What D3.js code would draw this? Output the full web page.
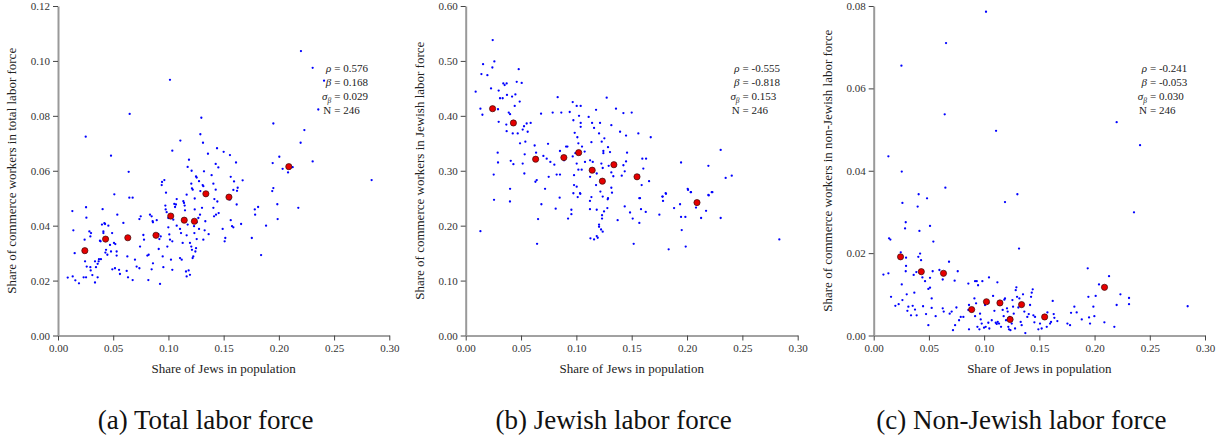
<!DOCTYPE html>
<html>
<head>
<meta charset="utf-8">
<script src="https://cdn.jsdelivr.net/npm/d3@7"></script>
<style>
    body { margin: 0; background: #fff; }
    svg text { font-family: "Liberation Serif", "DejaVu Serif", serif; }
</style>
</head>
<body>
<svg></svg>
<script>
// x tick labels (same for all three panels)
const xTicks = [0, 0.05, 0.10, 0.15, 0.20, 0.25, 0.30];

// y tick labels per panel
const yTicksTotal = [0, 0.02, 0.04, 0.06, 0.08, 0.10, 0.12];
const yTicksJewish = [0, 0.10, 0.20, 0.30, 0.40, 0.50, 0.60];
const yTicksNonJewish = [0, 0.02, 0.04, 0.06, 0.08];

// bin means (red dots): x = share of Jews
const binX = [0.0243, 0.0431, 0.0632, 0.0887, 0.1021, 0.1143, 0.1235, 0.1339, 0.1548, 0.2090];
const binTotal = [0.0309, 0.0351, 0.0356, 0.0365, 0.0435, 0.0420, 0.0416, 0.0516, 0.0504, 0.0615];
const binJewish = [0.413, 0.387, 0.321, 0.324, 0.333, 0.301, 0.281, 0.311, 0.289, 0.242];
const binNonJewish = [0.0191, 0.0155, 0.0151, 0.0063, 0.0082, 0.0079, 0.0039, 0.0075, 0.0045, 0.0117];

// regression stats: rho, beta, sigma beta, N
const statsTotal = ['0.576', '0.168', '0.029', '246'];
const statsJewish = ['-0.555', '-0.818', '0.153', '246'];
const statsNonJewish = ['-0.241', '-0.053', '0.030', '246'];

// county points [share of Jews, share of commerce workers]
const totalPts = [
[0.220,0.1036],[0.2306,0.0975],[0.2409,0.0928],[0.2357,0.0823],[0.1014,0.0931],[0.0649,0.0807],[0.0251,0.0724],[0.195,0.0772],
[0.2231,0.0748],[0.2197,0.0702],[0.2306,0.0634],[0.2004,0.0651],[0.1944,0.0628],[0.2034,0.0607],[0.2125,0.0613],[0.2083,0.0594],
[0.284,0.0566],[0.195,0.0537],[0.194,0.0526],[0.048,0.0655],[0.064,0.0596],[0.051,0.0514],[0.0646,0.0502],[0.0676,0.0502],
[0.1108,0.0710],[0.1035,0.0673],[0.1298,0.0793],[0.1289,0.0733],[0.1313,0.0702],[0.144,0.0682],[0.150,0.0669],[0.1557,0.0657],
[0.1358,0.0662],[0.1186,0.0640],[0.1612,0.0630],[0.1174,0.0614],[0.1428,0.0625],[0.1452,0.0612],[0.121,0.0600],[0.1322,0.0598],
[0.125,0.0579],[0.1256,0.0575],[0.1391,0.0584],[0.1564,0.0578],[0.1277,0.0562],[0.1207,0.0553],[0.131,0.0548],[0.1316,0.0544],
[0.1407,0.0553],[0.1594,0.0561],[0.1672,0.0565],[0.1627,0.0538],[0.1621,0.0527],[0.1588,0.053],[0.1428,0.0531],[0.1213,0.0536],
[0.122,0.0531],[0.1289,0.0526],[0.0942,0.0559],[0.0963,0.0566],[0.0939,0.0548],[0.0978,0.052],[0.1075,0.0497],[0.1165,0.0513],
[0.1238,0.0499],[0.1416,0.0497],
[0.013,0.0453],[0.0139,0.0383],[0.0151,0.030],[0.0088,0.0211],[0.0133,0.0215],[0.0157,0.0201],[0.019,0.019],[0.0241,0.0349],
[0.0254,0.0467],[0.0257,0.0429],[0.0245,0.027],[0.026,0.0251],[0.0232,0.0212],[0.0254,0.0212],[0.0284,0.0379],[0.0293,0.0361],
[0.0299,0.0373],[0.0293,0.0249],[0.0296,0.0237],[0.0311,0.022],[0.0335,0.027],[0.0344,0.0249],[0.0335,0.0193],[0.0359,0.0261],
[0.0368,0.027],[0.0359,0.0212],[0.0371,0.0278],[0.0389,0.0278],[0.038,0.0345],[0.0386,0.0343],[0.0398,0.0404],[0.0411,0.0379],
[0.0426,0.0406],[0.042,0.0409],[0.0404,0.046],[0.0411,0.0373],[0.0435,0.0312],[0.0429,0.0302],[0.0447,0.0294],[0.0456,0.04],
[0.0471,0.033],[0.048,0.0306],[0.049,0.0373],[0.0507,0.0337],[0.0519,0.0333],[0.0531,0.0306],[0.0531,0.0291],[0.0537,0.044],
[0.0516,0.0245],[0.0492,0.0241],[0.0553,0.0239],[0.0561,0.0224],[0.0592,0.041],[0.0622,0.0235],[0.0628,0.0288],[0.0634,0.0212],
[0.0676,0.0202],[0.0697,0.0276],[0.0712,0.0251],[0.0737,0.0245],[0.0737,0.0424],[0.0749,0.0434],[0.0743,0.0324],[0.0773,0.0366],
[0.0779,0.0349],[0.0818,0.0202],[0.0809,0.0291],[0.0821,0.0294],[0.0833,0.044],[0.0848,0.0434],[0.0857,0.0416],[0.0848,0.0241],
[0.086,0.0412],[0.086,0.0263],[0.0894,0.042],[0.0909,0.0369],[0.0912,0.0315],[0.0918,0.0351],[0.093,0.0361],[0.0924,0.0188],
[0.0948,0.0288],[0.0954,0.0249],[0.0972,0.0473],[0.0975,0.0459],[0.0984,0.0449],[0.099,0.0324],[0.0999,0.0428],[0.0999,0.0394],
[0.1008,0.0368],[0.1014,0.0349],[0.1023,0.0276],[0.1035,0.0239],[0.1035,0.0343],[0.1044,0.0422],[0.1053,0.0479],[0.106,0.0468],
[0.1068,0.0477],[0.1075,0.04],[0.1105,0.0282],[0.1105,0.0388],[0.112,0.0276],[0.1114,0.0373],[0.1129,0.0337],[0.1135,0.0489],
[0.1141,0.0483],[0.1147,0.0473],[0.115,0.0456],[0.1159,0.0233],[0.1165,0.0365],[0.1174,0.0404],[0.1183,0.0237],[0.1195,0.0221],
[0.1165,0.0215],[0.1195,0.0337],[0.1207,0.0324],[0.1213,0.0312],[0.1219,0.0282],[0.1225,0.0288],[0.1232,0.0398],[0.1235,0.0373],
[0.1238,0.0459],[0.1244,0.0306],[0.125,0.0318],[0.1256,0.0351],[0.1256,0.0412],[0.1271,0.0428],[0.1277,0.0388],[0.1286,0.0440],
[0.1304,0.0465],[0.1316,0.0349],[0.1328,0.0383],[0.1334,0.0416],[0.1364,0.0369],[0.1407,0.0465],[0.1413,0.0434],[0.1431,0.044],
[0.1443,0.0488],[0.1455,0.0446],[0.1491,0.0388],[0.1515,0.0355],[0.1509,0.0343],[0.1557,0.0495],[0.1564,0.042],[0.1576,0.0398],
[0.1588,0.0394],[0.1618,0.0477],[0.1658,0.0406],[0.1755,0.0355],[0.1782,0.0459],[0.1785,0.044],[0.1812,0.0468],[0.1839,0.0293],
[0.1884,0.04],[0.1986,0.0478],[0.1989,0.0424],[0.2176,0.0465]
];

const jewishPts = [
[0.0244,0.538],[0.0259,0.499],[0.0157,0.494],[0.0142,0.476],[0.0196,0.474],[0.0241,0.488],[0.0229,0.450],[0.009,0.444],
[0.0133,0.413],[0.0151,0.402],[0.0292,0.412],[0.0298,0.446],[0.031,0.432],[0.0334,0.432],[0.034,0.459],[0.0352,0.456],
[0.037,0.459],[0.0373,0.438],[0.0419,0.435],[0.0449,0.439],[0.0479,0.485],[0.0461,0.462],[0.0506,0.460],[0.0488,0.426],
[0.0443,0.418],[0.0389,0.406],[0.0401,0.403],[0.0298,0.389],[0.0367,0.384],[0.0425,0.368],[0.037,0.372],[0.047,0.368],
[0.0515,0.375],[0.0527,0.381],[0.0551,0.386],[0.0587,0.387],[0.056,0.371],[0.0491,0.350],[0.0539,0.353],[0.0289,0.333],
[0.0292,0.315],[0.0253,0.293],[0.0407,0.318],[0.0431,0.312],[0.0515,0.313],[0.0533,0.330],[0.053,0.295],[0.0623,0.346],
[0.0636,0.333],[0.063,0.280],[0.0642,0.283],[0.0401,0.267],[0.0681,0.404],[0.0702,0.327],[0.0732,0.322],[0.0744,0.349],
[0.0765,0.316],[0.075,0.289],[0.0717,0.267],[0.0786,0.406],[0.0831,0.434],[0.0864,0.406],[0.0852,0.336],[0.0852,0.293],
[0.0822,0.293],[0.0801,0.311],[0.0889,0.319],[0.0907,0.344],[0.0919,0.344],[0.094,0.407],[0.0967,0.425],[0.0973,0.392],
[0.0985,0.369],[0.1003,0.418],[0.1009,0.361],[0.1018,0.350],[0.1024,0.400],[0.1039,0.418],[0.1039,0.387],[0.1039,0.380],
[0.1051,0.344],[0.0991,0.332],[0.0967,0.326],[0.1003,0.313],[0.1018,0.302],[0.1048,0.302],[0.1075,0.335],[0.0979,0.292],
[0.0979,0.274],[0.1003,0.271],[0.1033,0.259],[0.1078,0.316],[0.1111,0.398],[0.1142,0.387],[0.116,0.378],[0.1136,0.352],
[0.1178,0.411],[0.1214,0.387],[0.1205,0.368],[0.1229,0.353],[0.1253,0.359],[0.1124,0.319],[0.1148,0.316],[0.1184,0.295],
[0.1178,0.274],[0.1124,0.289],[0.1226,0.313],[0.1244,0.336],[0.1244,0.332],[0.1238,0.305],[0.1220,0.283],[0.1274,0.433],
[0.1286,0.343],[0.1304,0.334],[0.1316,0.383],[0.1358,0.413],[0.1292,0.309],[0.1316,0.297],[0.1334,0.290],[0.1316,0.269],
[0.1286,0.250],[0.1395,0.371],[0.1425,0.405],[0.1449,0.364],[0.1458,0.333],[0.1449,0.317],[0.1425,0.310],[0.141,0.291],
[0.1437,0.299],[0.15,0.406],[0.156,0.368],[0.1596,0.322],[0.163,0.322],[0.1605,0.304],[0.1657,0.281],[0.1672,0.361],
[0.1590,0.274],[0.1569,0.250],[0.156,0.292],[0.1946,0.315],[0.2006,0.267],[0.2033,0.261],[0.2193,0.309],[0.2223,0.261],
[0.2193,0.256],[0.2304,0.338],[0.2349,0.287],[0.2404,0.291],[0.178,0.253],[0.1807,0.259],
[0.0133,0.190],[0.0256,0.247],[0.04,0.244],[0.0645,0.167],[0.0654,0.212],[0.0684,0.239],[0.0813,0.231],[0.0849,0.251],
[0.0925,0.213],[0.0955,0.229],[0.0955,0.221],[0.0973,0.259],[0.1012,0.252],[0.1036,0.258],[0.1123,0.245],[0.1136,0.252],
[0.1123,0.230],[0.1184,0.229],[0.1205,0.202],[0.1205,0.198],[0.1223,0.193],[0.1238,0.189],[0.1232,0.219],[0.1232,0.213],
[0.1238,0.253],[0.125,0.226],[0.128,0.232],[0.1283,0.248],[0.1322,0.260],[0.1127,0.177],[0.116,0.175],[0.1184,0.181],
[0.1193,0.178],[0.1217,0.262],[0.1373,0.210],[0.1437,0.235],[0.1485,0.224],[0.1509,0.213],[0.1518,0.167],[0.1569,0.205],
[0.1575,0.250],[0.1584,0.230],[0.1627,0.225],[0.175,0.220],[0.1777,0.253],[0.1783,0.245],[0.181,0.258],[0.1834,0.157],
[0.1883,0.232],[0.1937,0.239],[0.1946,0.216],[0.1952,0.192],[0.1985,0.216],[0.1988,0.162],[0.2081,0.233],[0.2172,0.227],
[0.2127,0.214],[0.2196,0.255],[0.2229,0.261],[0.2304,0.214],[0.2834,0.175],[0.2009,0.265],[0.2036,0.261]
];

const nonJewishPts = [
[0.1017,0.0786],[0.0655,0.0710],[0.0251,0.0655],[0.0643,0.0537],[0.1108,0.0497],[0.22,0.0518],[0.2412,0.0462],[0.0133,0.0435],
[0.0254,0.0398],[0.0407,0.0343],[0.0483,0.0333],[0.0649,0.0359],[0.1301,0.0343],
[0.026,0.0322],[0.0398,0.0313],[0.1189,0.0324],[0.2357,0.0299],[0.029,0.0275],[0.0284,0.026],[0.051,0.0266],[0.0414,0.0254],
[0.0139,0.0236],[0.0151,0.0233],[0.054,0.0228],[0.1316,0.0211],[0.0245,0.0202],[0.042,0.0199],[0.0404,0.0191],[0.0293,0.0189],
[0.0429,0.0183],[0.0682,0.0179],[0.0293,0.0169],[0.029,0.0156],[0.0386,0.0154],[0.0534,0.0156],[0.0595,0.0159],[0.0761,0.0156],
[0.0625,0.0136],[0.0362,0.0147],[0.0088,0.0148],[0.0133,0.0151],[0.0441,0.0141],[0.051,0.014],[0.0733,0.0133],[0.0465,0.0132],
[0.0254,0.0124],[0.0857,0.0126],[0.0918,0.0132],[0.0933,0.0132],[0.0984,0.0132],[0.0945,0.0122],[0.1044,0.0141],[0.112,0.0129],
[0.0299,0.01],[0.0368,0.0104],[0.0157,0.0094],[0.0196,0.0072],[0.0226,0.0076],[0.026,0.0086],[0.0314,0.007],[0.0338,0.0049],
[0.0353,0.0072],[0.0374,0.0063],[0.0389,0.0049],[0.0447,0.0071],[0.0474,0.0052],[0.0495,0.0113],[0.051,0.0116],[0.0495,0.0025],
[0.0525,0.009],[0.0525,0.0067],[0.0561,0.0047],[0.0625,0.0066],[0.0634,0.0058],[0.0688,0.0053],[0.0706,0.0058],[0.0749,0.0068],
[0.0737,0.0025],[0.0718,0.0013],[0.0773,0.0037],[0.0788,0.0045],[0.0812,0.0045],[0.0857,0.0062],[0.0863,0.0074],[0.0863,0.0015],
[0.0912,0.009],[0.0927,0.0078],[0.0918,0.0047],[0.0939,0.0021],[0.0957,0.0015],[0.0963,0.0053],[0.0969,0.0039],[0.0978,0.0029],
[0.0999,0.0019],[0.1014,0.0021],[0.1008,0.0074],[0.1038,0.0079],[0.1038,0.0031],[0.1047,0.0017],[0.1069,0.0037],[0.1081,0.0096],
[0.1093,0.006],[0.1105,0.0031],[0.1114,0.0028],[0.1123,0.0033],[0.1135,0.0029],[0.1153,0.0021],[0.1168,0.0062],[0.1177,0.0047],
[0.1183,0.0087],[0.1189,0.009],[0.1198,0.0037],[0.1207,0.0066],[0.1213,0.0058],[0.1219,0.0021],[0.1225,0.0015],[0.1231,0.0045],
[0.1238,0.0013],[0.125,0.0029],[0.1256,0.0086],[0.1262,0.007],[0.1268,0.0053],[0.128,0.0017],[0.1286,0.011],[0.1292,0.0117],
[0.1298,0.0094],[0.131,0.0068],[0.1319,0.009],[0.1331,0.0033],[0.134,0.0025],[0.1352,0.01],[0.1364,0.0058],[0.1373,0.0006],
[0.1391,0.0045],[0.1404,0.0052],[0.1416,0.0074],[0.1425,0.0094],[0.1431,0.0104],[0.144,0.0112],[0.1446,0.0049],[0.1455,0.0032],
[0.1461,0.0045],[0.1491,0.0015],[0.1506,0.0029],[0.1521,0.0017],[0.1545,0.0041],[0.1567,0.0021],[0.1573,0.0056],[0.1597,0.0029],
[0.1606,0.0033],[0.1621,0.0084],[0.163,0.0052],[0.1636,0.0043],[0.1663,0.0035],[0.1754,0.0029],[0.1778,0.0025],[0.1787,0.0055],
[0.1817,0.007],[0.1838,0.0056],[0.1884,0.0039],[0.1938,0.0163],[0.1944,0.0094],[0.195,0.0044],[0.1959,0.0029],[0.1989,0.007],
[0.1998,0.0047],[0.201,0.0096],[0.204,0.0124],[0.2131,0.0144],[0.2089,0.0032],[0.2179,0.0021],[0.22,0.0074],[0.2234,0.01],
[0.2312,0.0091],[0.2312,0.0076],[0.2843,0.0071],[0.0305,0.006]
];

const yLabels = ['Share of commerce workers in total labor force',
                 'Share of commerce workers in Jewish labor force',
                 'Share of commerce workers in non-Jewish labor force'];
const captions = ['(a) Total labor force', '(b) Jewish labor force', '(c) Non-Jewish labor force'];

let width = 1225, height = 438;

let svg = d3.select('svg')
    .attr('width', width)
    .attr('height', height)
    .style('background', '#fff');

// panel frames
let panels = [
    {left: 58, right: 389.3, pts: totalPts, bins: binTotal, yMax: 0.12, yTicks: yTicksTotal, stats: statsTotal},
    {left: 465.7, right: 797.7, pts: jewishPts, bins: binJewish, yMax: 0.60, yTicks: yTicksJewish, stats: statsJewish},
    {left: 873.7, right: 1205, pts: nonJewishPts, bins: binNonJewish, yMax: 0.08, yTicks: yTicksNonJewish, stats: statsNonJewish}
];
let plotTop = 6, plotBottom = 335.5;
let fmt = d3.format('.2f');

panels.forEach(function(p, i) {
    let g = svg.append('g');

    let xScale = d3.scaleLinear().domain([0, 0.30]).range([p.left, p.right]);
    let yScale = d3.scaleLinear().domain([0, p.yMax]).range([plotBottom, plotTop]);

    let xAxis = g.append('g')
        .attr('transform', `translate(0, ${plotBottom})`)
        .call(d3.axisBottom(xScale).tickValues(xTicks).tickFormat(fmt).tickSize(5).tickSizeOuter(0).tickPadding(4));

    let yAxis = g.append('g')
        .attr('transform', `translate(${p.left}, 0)`)
        .call(d3.axisLeft(yScale).tickValues(p.yTicks).tickFormat(fmt).tickSize(5).tickSizeOuter(0).tickPadding(3));

    xAxis.select('.domain').attr('stroke', '#444').attr('stroke-width', 1);
    yAxis.select('.domain').attr('stroke', '#999').attr('stroke-width', 2);
    g.selectAll('.tick line').attr('stroke', '#444');
    g.selectAll('.tick text')
        .attr('fill', '#333')
        .style('font-size', '11px')
        .style('font-family', '"Liberation Serif", serif');

    // county points
    g.append('g').selectAll('circle')
        .data(p.pts)
        .enter()
        .append('circle')
        .attr('cx', d => xScale(d[0]))
        .attr('cy', d => yScale(d[1]))
        .attr('r', 1.15)
        .attr('fill', '#0000ff');

    // bin means
    g.append('g').selectAll('circle')
        .data(binX)
        .enter()
        .append('circle')
        .attr('cx', d => xScale(d))
        .attr('cy', (d, j) => yScale(p.bins[j]))
        .attr('r', 3.1)
        .attr('fill', '#e60000')
        .attr('stroke', '#3b0a0a')
        .attr('stroke-width', 0.7);

    // axis labels
    g.append('text')
        .attr('x', (p.left + p.right) / 2)
        .attr('y', 373)
        .attr('text-anchor', 'middle')
        .attr('fill', '#222')
        .style('font-size', '13px')
        .text('Share of Jews in population');

    g.append('text')
        .attr('transform', `translate(${p.left - 42}, ${(plotTop + plotBottom) / 2}) rotate(-90)`)
        .attr('text-anchor', 'middle')
        .attr('fill', '#222')
        .style('font-size', '13px')
        .text(yLabels[i]);

    // stats block
    let eqX = p.left + 0.834 * (p.right - p.left);
    let rows = [0, 1, 2, 3];
    rows.forEach(function(r) {
        let yy = 72 + r * 14;
        let lab = g.append('text')
            .attr('x', eqX - 3)
            .attr('y', yy)
            .attr('text-anchor', 'end')
            .attr('fill', '#222')
            .style('font-size', '11px');
        if (r === 0) lab.append('tspan').style('font-style', 'italic').text('\u03c1');
        if (r === 1) lab.append('tspan').style('font-style', 'italic').text('\u03b2');
        if (r === 2) {
            lab.append('tspan').style('font-style', 'italic').text('\u03c3');
            lab.append('tspan').style('font-style', 'italic').style('font-size', '7.5px').attr('dy', 2.5).text('\u03b2');
        }
        if (r === 3) lab.text('N');

        g.append('text')
            .attr('x', eqX)
            .attr('y', yy)
            .attr('fill', '#222')
            .style('font-size', '11px')
            .text('= ' + p.stats[r]);
    });

    // caption
    g.append('text')
        .attr('x', (p.left + p.right) / 2 - 18)
        .attr('y', 429)
        .attr('text-anchor', 'middle')
        .attr('fill', '#111')
        .style('font-size', '27px')
        .text(captions[i]);
});
</script>
</body>
</html>
